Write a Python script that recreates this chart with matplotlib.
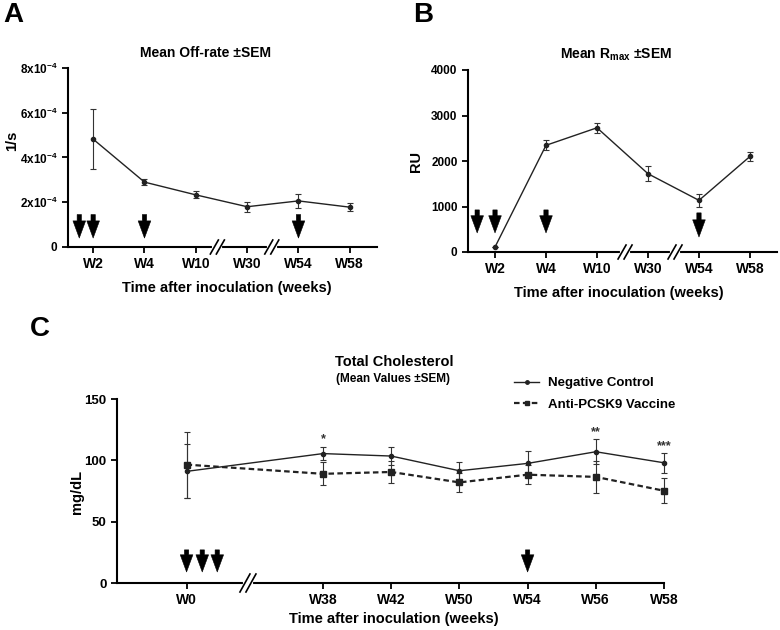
import matplotlib
matplotlib.use('Agg')
import matplotlib.pyplot as plt
from matplotlib.lines import Line2D

plt.rcParams['font.family'] = ['Liberation Sans', 'DejaVu Sans']
plt.rcParams['font.weight'] = 'bold'
plt.rcParams['mathtext.default'] = 'regular'

# ---------------- data ----------------
weeks_ab = ['W2', 'W4', 'W10', 'W30', 'W54', 'W58']
offrate = [4.82e-4, 2.9e-4, 2.33e-4, 1.8e-4, 2.06e-4, 1.78e-4]
offrate_sem = [1.33e-4, 0.13e-4, 0.16e-4, 0.22e-4, 0.3e-4, 0.18e-4]
offrate_yticks = [0, 2e-4, 4e-4, 6e-4, 8e-4]
offrate_yticklabels = ['0', '2x10$^{-4}$', '4x10$^{-4}$', '6x10$^{-4}$', '8x10$^{-4}$']

rmax = [110, 2345, 2730, 1720, 1135, 2100]
rmax_sem = [0, 110, 110, 165, 150, 100]
rmax_yticks = [0, 1000, 2000, 3000, 4000]

weeks_c = ['W0', 'W38', 'W42', 'W50', 'W54', 'W56', 'W58']
neg_ctrl = [91, 105.5, 103.5, 91.5, 97.5, 107, 98]
neg_sem = [22, 5.5, 7, 7, 10.5, 10, 8]
vaccine = [96.5, 89, 90.5, 82, 88.3, 86.5, 75.2]
vaccine_sem = [27, 9.5, 9, 8, 8, 13, 10]
chol_yticks = [0, 50, 100, 150]
signif = ['', '*', '', '', '', '**', '***']

# inoculation arrows (x position on category axis)
arrows_a = [-0.27, 0, 1, 4]
arrows_b = [-0.35, 0, 1, 4]
arrows_c = [0, 0.23, 0.45, 5]

W, H = 780, 630
fig = plt.figure(figsize=(W / 100, H / 100), dpi=100)


def px(x, y):
    return x / W, 1 - y / H


def axes_px(l, t, r, b):
    return fig.add_axes([l / W, 1 - b / H, (r - l) / W, (b - t) / H])


def style(ax):
    ax.spines['top'].set_visible(False)
    ax.spines['right'].set_visible(False)
    ax.spines['left'].set_linewidth(1.5)
    ax.spines['bottom'].set_linewidth(1.5)
    ax.tick_params(direction='out', length=4, width=1.3)


def axis_break(ax, xd, w=4, h=7):
    trans = ax.transData
    inv = trans.inverted()
    x0, y0 = trans.transform((xd, ax.get_ylim()[0]))
    gap = inv.transform([(x0 - 3, y0), (x0 + 3, y0)])
    ax.plot(gap[:, 0], gap[:, 1], color='white', lw=3, clip_on=False, zorder=4)
    for off in (-3, 3):
        d = inv.transform([(x0 + off - w, y0 - h), (x0 + off + w, y0 + h)])
        ax.plot(d[:, 0], d[:, 1], color='k', lw=1.2, clip_on=False, zorder=5)


def arrow(ax, x, top, tip):
    ax.annotate('', xy=(x, tip), xytext=(x, top),
                arrowprops=dict(arrowstyle='simple,head_length=0.95,head_width=0.7,tail_width=0.24',
                                fc='k', ec='k', lw=0.4, mutation_scale=13, shrinkA=0, shrinkB=0))


def ebar(ax, x, y, e, **kw):
    cont = ax.errorbar(x, y, yerr=e, color='#222222', elinewidth=0.8, capsize=2,
                       capthick=0.8, ecolor='#333333', **kw)
    for child in cont.get_children():
        child.set_clip_on(False)
    return cont


# ---------------- Panel A ----------------
axA = axes_px(68, 68, 377, 247)
xa = list(range(len(weeks_ab)))
ebar(axA, xa, offrate, offrate_sem, fmt='-o', ms=3, lw=1)
axA.set_xlim(-0.49, 5.53)
axA.set_ylim(0, 8e-4)
axA.set_yticks(offrate_yticks)
axA.set_yticklabels(offrate_yticklabels, fontsize=8.5)
axA.set_xticks(xa)
axA.set_xticklabels(weeks_ab, fontsize=10)
style(axA)
for x in arrows_a:
    arrow(axA, x, 1.45e-4, 0.4e-4)
axis_break(axA, 2.42)
axis_break(axA, 3.48)

fig.text(*px(13, 15), 'A', fontsize=20, ha='center', va='center')
fig.text(*px(206, 53), 'Mean Off-rate \u00b1SEM', fontsize=10, ha='center', va='center')
fig.text(*px(227, 288), 'Time after inoculation (weeks)', fontsize=10.5, ha='center', va='center')
fig.text(*px(12, 141), '1/s', fontsize=10.5, ha='center', va='center', rotation=90)

# ---------------- Panel B ----------------
axB = axes_px(468, 70, 777, 252)
ebar(axB, xa, rmax, rmax_sem, fmt='-o', ms=3, lw=1)
axB.set_xlim(-0.53, 5.53)
axB.set_ylim(0, 4000)
axB.set_yticks(rmax_yticks)
axB.set_yticklabels([str(v) for v in rmax_yticks], fontsize=8.5)
axB.set_xticks(xa)
axB.set_xticklabels(weeks_ab, fontsize=10)
style(axB)
for x in arrows_b:
    top, tip = (860, 330) if x == 4 else (925, 420)
    arrow(axB, x, top, tip)
axis_break(axB, 2.55)
axis_break(axB, 3.53)

fig.text(*px(423, 15), 'B', fontsize=20, ha='center', va='center')
fig.text(*px(616, 55), 'Mean R$_{max}$ \u00b1SEM', fontsize=10, ha='center', va='center')
fig.text(*px(619, 293), 'Time after inoculation (weeks)', fontsize=10.5, ha='center', va='center')
fig.text(*px(416, 162), 'RU', fontsize=10.5, ha='center', va='center', rotation=90)

# ---------------- Panel C ----------------
NARROW = ['Liberation Sans Narrow', 'Liberation Sans', 'DejaVu Sans']
axC = axes_px(117, 399, 664, 583)
xc = [0] + list(range(2, len(weeks_c) + 1))
ebar(axC, xc, neg_ctrl, neg_sem, fmt='-o', ms=3, lw=1)
ebar(axC, xc, vaccine, vaccine_sem, fmt='s', ms=4)
axC.plot(xc, vaccine, color='#222222', lw=1.6, ls=(0, (2.5, 1.5)), clip_on=False)
axC.set_xlim(-1.02, 7)
axC.set_ylim(0, 150)
axC.set_yticks(chol_yticks)
axC.set_yticklabels([str(v) for v in chol_yticks], fontsize=9.5, family=NARROW)
axC.set_xticks(xc)
axC.set_xticklabels(weeks_c, fontsize=10, family=NARROW)
style(axC)
for x in arrows_c:
    arrow(axC, x, 27, 9)
axis_break(axC, 0.9, w=5, h=9)
for x, y, s, t in zip(xc, neg_ctrl, neg_sem, signif):
    if t:
        axC.text(x, y + s + 1.0, t, fontsize=9, ha='center', va='bottom', family=NARROW,
                 color='#333333', clip_on=False)

handles = [Line2D([], [], color='#222222', lw=1, marker='o', ms=2.5),
           Line2D([], [], color='#222222', lw=1.6, ls=(0, (2.5, 1.5)), marker='s', ms=3.5)]
fig.legend(handles, ['Negative Control', 'Anti-PCSK9 Vaccine'], loc='upper left',
           bbox_to_anchor=px(514, 377), frameon=False, handlelength=1.9, handletextpad=0.7,
           borderaxespad=0, borderpad=0, labelspacing=0.7,
           prop={'family': NARROW, 'size': 9.5, 'weight': 'bold'})

fig.text(*px(40, 329), 'C', fontsize=20, ha='center', va='center', family=NARROW)
fig.text(*px(394, 362), 'Total Cholesterol', fontsize=10.5, ha='center', va='center', family=NARROW)
fig.text(*px(393, 379), '(Mean Values \u00b1SEM)', fontsize=8.5, ha='center', va='center', family=NARROW)
fig.text(*px(394, 619), 'Time after inoculation (weeks)', fontsize=10.5, ha='center', va='center', family=NARROW)
fig.text(*px(77, 492), 'mg/dL', fontsize=10.5, ha='center', va='center', rotation=90, family=NARROW)

fig.savefig('out.png', dpi=100)
